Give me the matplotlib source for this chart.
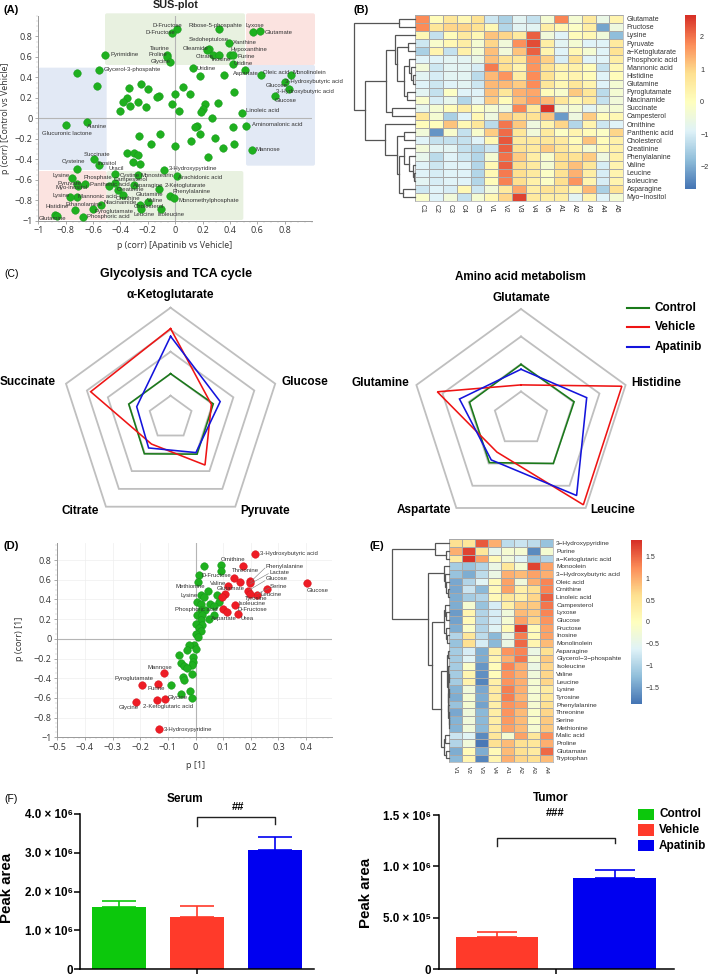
import numpy as np
import matplotlib
matplotlib.use("Agg")
import matplotlib.pyplot as plt
from matplotlib.colors import LinearSegmentedColormap
from matplotlib.patches import FancyBboxPatch, Rectangle

W, H = 709, 974
SANS = ['Liberation Sans', 'DejaVu Sans']
OPEN = ['Open Sans', 'DejaVu Sans']
plt.rcParams['font.family'] = SANS

# ---------------- Panel A data ----------------
sus_x = [.01,-.02,.32,.57,.62,.39,.25,.23,.28,.32,.40,.42,.42,.51,.63,.85,.80,.83,.73,.43,-.06,-.06,-.04,-.51,-.72,-.56,-.57,.13,.18,.36,-.25,-.20,-.34,.06,0,.11,-.12,-.13,-.35,-.38,-.27,-.33,-.21,-.40,-.02,.03,.22,.31,.20,.19,.27,.49,-.645,-.80,.42,.52,.16,.145,.18,.29,.115,-.11,-.265,-.175,0,.35,.43,.56,.24,-.35,-.30,-.275,-.59,-.56,-.305,-.26,-.72,-.08,-.44,-.27,.01,-.755,-.715,-.66,-.48,-.44,-.30,-.42,-.115,-.38,-.72,-.765,-.04,-.01,-.20,-.545,-.26,-.25,-.105,-.60,-.73,-.875,-.86,-.675,-.71]
sus_y = [.87,.83,.87,.84,.85,.74,.68,.67,.62,.62,.62,.62,.53,.47,.42,.42,.36,.29,.22,.26,.62,.60,.55,.62,.44,.47,.32,.49,.41,.42,.34,.29,.30,.31,.24,.24,.22,.205,.20,.16,.16,.12,.11,.07,.14,.07,.14,.15,.09,.06,0,.05,-.035,-.065,-.085,-.07,-.07,-.08,-.155,-.19,-.22,-.155,-.17,-.25,-.27,-.29,-.25,-.305,-.38,-.34,-.34,-.355,-.40,-.46,-.43,-.445,-.49,-.50,-.54,-.555,-.565,-.58,-.64,-.645,-.665,-.63,-.655,-.70,-.69,-.75,-.77,-.77,-.76,-.78,-.82,-.845,-.845,-.89,-.885,-.89,-.90,-.94,-.955,-.96,-.66]
sus_labels = [("D-Fructose",457,76),("D-Fructose",437,98),("Ribose-5-phospahte",566,76),("Lyxose",738,76),("Glutamate",793,98),("Sedoheptulose",566,118),("Xanthine",698,127),("Taurine",451,144),("Oleamide",548,144),("Hypoxanthine",692,150),("Proline",445,163),("Citrate",587,170),("Inosine",634,179),("Purine",712,170),("Glycine",451,186),("Uridine",700,191),("Pyrimidine",332,163),("Glycerol-3-phospahte",310,207),("Uridine",590,207),("Aspartate",698,219),("Oleic acid",790,219),("Monolinolein",878,219),("3-Hydroxybutyric acid",855,244),("Glucose",798,256),("3-Hydroxybutyric acid",827,274),("Glucose",823,302),("Linoleic acid",737,333),("Alanine",260,379),("Glucuronic lactone",126,400),("Aminomalonic acid",757,375),("Mannose",768,449),("Succinate",252,463),("Cysteine",184,484),("Inositol",294,491),("Uracil",325,506),("3-Hydroxypyridine",506,506),("Lysine",158,526),("Phosphate",252,533),("Cystine",358,526),("Monostearin",422,526),("Arachidonic acid",535,533),("Campesterol",340,540),("Pyruvate",173,550),("Panthenic acid",270,555),("Asparagine",398,555),("2-Ketoglutarate",495,555),("Myo-inositol",165,562),("Creatinine",350,568),("Phenylalanine",518,575),("Glutamine",408,583),("Lysine",158,588),("Mannonic acid",235,588),("Ornithine",348,596),("Valine",442,602),("Monomethylphosphate",535,602),("Ethanolamine",198,612),("Niacinamide",310,609),("Histidine",137,620),("Cholesterol",400,620),("Pyroglutamate",284,635),("Leucine",400,645),("Isoleucine",473,645),("Phosphoric acid",260,650),("Glutamine",117,656)]

# ---------------- Panel B data ----------------
b_rows = ["Glutamate","Fructose","Lysine","Pyruvate","a\u2212Ketoglutarate","Phosphoric acid","Mannonic acid","Histidine","Glutamine","Pyroglutamate","Niacinamide","Succinate","Campesterol","Ornithine","Panthenic acid","Cholesterol","Creatinine","Phenylalanine","Valine","Leucine","Isoleucine","Asparagine","Myo\u2212Inositol"]
b_cols = ["C1","C2","C3","C4","C5","V1","V2","V3","V4","V5","A1","A2","A3","A4","A5"]
b_vals = [
[1.8,.1,.7,.2,.8,-1.1,-1.5,-.8,-1.2,-.3,1.85,-.3,.6,-.6,.3],
[1.8,.7,1.0,1.0,.8,.2,-1.4,-.8,-.8,.5,.2,-.1,.5,-2.1,-.5],
[.2,-1.2,.1,.6,.2,1.2,1.0,.6,2.2,-.4,-.9,.1,.2,-.4,-1.8],
[-1.1,-.2,.2,.5,-.3,1.0,-.4,1.75,2.4,.5,-.8,-.3,-.9,-.9,.6],
[-1.5,.3,-1.2,.4,-.3,1.25,-.4,1.2,2.2,.3,-.9,.2,-.3,-.9,.8],
[-.9,-.9,-.8,-.8,-.6,1.25,.8,.7,1.7,1.05,-1.0,.8,-.9,-.9,.5],
[-.4,-1.1,-.8,-.8,-1.0,1.95,.9,.3,1.7,.8,.3,.4,.1,-1.2,.2],
[-.8,-1,-.8,-.8,-1.3,1.3,1.7,.5,1.8,.8,.2,.3,.1,-.9,.1],
[-.9,-1.1,-.9,-.8,-1.1,1.3,1.3,1.1,1.8,.7,.2,.7,.3,-.9,-.3],
[-.8,-1.2,-.1,-.9,-.9,1.25,.7,1.4,1.5,.1,-.2,1.15,.7,-1.3,-.3],
[-.2,-1.0,-.7,-1.4,-.8,1.1,.1,1.25,1.6,1.3,.7,.2,.6,-1.2,-.4],
[-.7,-.3,.1,.5,-.1,-.3,-.5,1.85,.6,2.65,-.4,-.3,-.8,-.4,-.3],
[.7,-.3,-1.5,-.9,.2,-.5,1.1,.9,.8,1.2,-2.2,-.5,1.1,.1,.2],
[.1,.05,1.2,.2,.7,-1.3,2.0,1.15,-.5,.3,1.0,-1.4,.3,-1.1,-.9],
[-.4,-2.3,-.2,-1.2,-.2,1.1,2.1,.7,-.4,.6,-.1,.3,.1,-.1,1.0],
[-.9,-1.2,-1.2,-1.2,-.9,.2,2.3,.6,.6,.7,.6,.1,1.2,.1,.4],
[-.4,-.8,-.8,-1.2,-1.4,-1.1,2.2,.8,.6,1.1,.7,.3,-.3,.2,.4],
[-.7,-1.3,-.9,-1.1,-1.4,-.3,2.05,1.1,.5,-.2,.9,.8,1.1,-.5,.4],
[-.9,-1.1,-.9,-.9,-1.4,.2,2.2,.9,.6,-.3,.9,1.25,.7,-1.0,.3],
[-.9,-1.0,-.9,-.9,-1.4,.2,1.95,.9,.6,-.1,.8,1.4,.5,-1.0,.3],
[-.8,-1.0,-.9,-.9,-1.4,.1,1.9,.9,.4,-.1,.9,1.7,.3,-1.0,.3],
[-1.1,-.9,-1.0,.2,-1.1,-.4,.6,1.5,.5,.8,.7,.3,1.3,-1.5,.8],
[-.2,-.9,-.4,-1.2,-.3,.2,1.0,2.5,.6,.5,.5,-.8,.3,-.9,-.3]]
b_tree = (1.0,(.257,0,1),(.815,(.48,(.33,2,(.29,(.11,3,4),(.18,(.093,5,(.065,6,(.033,7,8))),(.136,9,10)))),(.37,11,12)),
          (.50,13,(.30,(.175,14,15),(.27,(.175,16,(.10,17,(.03,18,(.02,19,20)))),(.19,21,22))))))

# ---------------- Panel C data ----------------
radar_left_axes = ["\u03b1-Ketoglutarate","Glucose","Pyruvate","Citrate","Succinate"]
radar_left_control = [2.0,2.04,2.05,2.03,2.0]
radar_left_vehicle = [4.05,1.95,2.66,1.48,3.82]
radar_left_apatinib = [3.7,2.37,1.96,1.7,1.62]
radar_left_rings = [1,2,3,4,5]
radar_right_axes = ["Glutamate","Histidine","Leucine","Aspartate","Glutamine"]
radar_right_control = [2.48,2.54,2.5,2.45,2.46]
radar_right_vehicle = [1.55,4.82,4.82,1.86,4.0]
radar_right_apatinib = [2.26,3.14,4.3,2.3,2.94]
radar_right_rings = [1.25,2.5,3.75,5]

# ---------------- Panel D data ----------------
d_red_x = [.215,.172,.138,.16,.118,.198,.196,.403,.258,.222,.189,.196,.106,.096,.144,.10,.112,.153,-.113,-.193,-.135,-.215,-.138,-.109,-.132]
d_red_y = [.865,.745,.62,.58,.535,.59,.57,.565,.505,.445,.485,.46,.455,.43,.34,.305,.27,.255,-.35,-.465,-.455,-.64,-.625,-.61,-.92]
d_green_x = [.031,.093,.092,.011,.008,.044,.018,.078,.032,.006,.018,.052,.084,.066,.018,.036,.006,.024,.066,.05,.018,.003,.024,.012,.018,.002,.008,-.006,0,-.022,-.032,-.008,-.008,-.059,-.054,-.012,-.04,-.03,-.012,-.044,-.04,-.087,-.019,-.052,-.013]
d_green_y = [.74,.755,.69,.65,.575,.49,.445,.445,.43,.37,.355,.355,.375,.335,.295,.295,.245,.245,.245,.2,.19,.15,.14,.11,.075,.05,.02,-.06,-.105,-.06,-.11,-.18,-.23,-.16,-.245,-.265,-.28,-.3,-.36,-.39,-.415,-.465,-.525,-.56,-.6]
d_labels = [("3-Hydroxybutyric acid",780,72),("Ornithine",663,88),("Phenylalanine",798,110),("Threonine",696,123),("Lactate",808,128),("D-Fructose",605,137),("Glucose",798,147),("Valine",630,160),("Serine",810,170),("Methionine",526,170),("Glutamate",650,176),("Glucose",920,180),("Leucine",782,192),("Lysine",541,196),("Tyrosine",735,206),("Isoleucine",715,220),("Phosphoric acid",526,238),("D-Fructose",714,238),("Aspartate",632,266),("Urea",722,266),("Mannose",443,412),("Pyroglutamate",343,446),("Purine",444,477),("Glycine",503,503),("2-Ketoglutaric acid",428,529),("Glycine",356,534),("3-Hydroxypyridine",492,598)]
d_leaders = [((795,114),(752,155)),((805,131),(750,162)),((795,152),(748,180)),((808,174),(770,192))]

# ---------------- Panel E data ----------------
e_rows = ["3\u2212Hydroxypyridine","Purine","a\u2212Ketoglutaric acid","Monoolein","3\u2212Hydroxybutyric acid","Oleic acid","Ornithine","Linoleic acid","Campesterol","Lyxose","Glucose","Fructose","Inosine","Monolinolein","Asparagine","Glycerol\u22123\u2212phospahte","Isoleucine","Valine","Leucine","Lysine","Tyrosine","Phenylalanine","Threonine","Serine","Methionine","Malic acid","Proline","Glutamate","Tryptophan"]
e_cols = ["V1","V2","V3","V4","A1","A2","A3","A4"]
e_vals = [
[.6,.5,1.6,1.0,-.9,-.8,-.9,-1.2],
[1.0,1.75,.5,-.5,-.2,-.2,-1.7,-.2],
[.4,1.85,1.1,.1,-.3,-.6,-1.2,-1.0],
[-1.1,-1.2,-1.0,-.4,.5,-.2,1.75,1.1],
[-1.2,-1.4,-.9,-.4,1.0,.9,1.1,1.0],
[-1.45,-1.0,-.6,.1,1.1,-.3,1.0,1.3],
[-1.45,-.8,-1.3,.1,1.1,.3,.6,1.3],
[-1.4,-1.1,-1.0,.1,.5,.3,.7,1.55],
[-1.4,-.2,-1.2,-.7,.3,.8,.8,1.4],
[-1.55,.2,-1.0,-.7,-.3,.9,.8,1.3],
[-1.5,.1,-1.0,-.7,-.2,1.1,.7,1.2],
[-1.4,-.1,-1.0,-.6,.1,1.8,.1,1.1],
[-1.0,.5,-.9,-1.3,-.4,1.35,.1,1.1],
[-1.2,.6,-.7,-1.3,-.4,1.5,.2,.9],
[-1.1,-.7,-1.4,.3,1.2,1.3,-.4,.6],
[-1.1,-.6,-1.4,.2,1.0,1.4,-.2,.8],
[-1.1,-.1,-1.6,.05,1.3,1.0,-.4,.7],
[-1.1,.2,-1.65,.05,1.2,1.0,-.3,.7],
[-1.1,.25,-1.75,.3,1.2,1.0,-.2,.7],
[-1.35,-.3,-1.45,.4,1.35,1.0,-.2,.4],
[-1.4,-.2,-1.4,.4,1.35,.95,-.2,.5],
[-1.2,-.2,-1.5,.3,1.2,1.1,-.2,.6],
[-1.45,-.3,-1.3,.35,1.2,.9,-.1,.7],
[-1.35,-.3,-1.3,.35,1.15,.9,-.1,.8],
[-1.35,-.3,-1.3,.4,1.1,.9,-.2,.8],
[-.8,-.6,-1.7,.5,-.2,1.1,.5,1.25],
[-1.0,-.3,-1.85,.6,.9,.6,.5,1.0],
[-1.4,.1,-1.4,.1,.9,.6,.4,1.5],
[-1.3,.2,-1.75,.2,1.0,.7,.6,.9]]
e_tree = (1.0,(.248,0,(.057,1,2)),(.365,(.10,3,(.075,4,(.05,5,(.03,6,7)))),
          (.305,(.10,(.07,8,(.05,9,10)),(.06,11,(.04,12,13))),
           (.144,(.045,(.03,14,15),(.03,(.02,16,(.01,17,18)),(.02,(.01,19,20),(.015,21,(.01,22,(.005,23,24)))))),
            (.10,(.07,25,26),(.05,27,28))))))

# ---------------- Panel F data ----------------
serum_groups = ["Control","Vehicle","Apatinib"]
serum_values = [1.6e6,1.35e6,3.07e6]
serum_errors = [.15e6,.27e6,.34e6]
serum_ticks = [0,1e6,2e6,3e6,4e6]
serum_ticklabels = ["0","1.0 \u00d7 10\u2076","2.0 \u00d7 10\u2076","3.0 \u00d7 10\u2076","4.0 \u00d7 10\u2076"]
tumor_groups = ["Vehicle","Apatinib"]
tumor_values = [3.17e5,8.84e5]
tumor_errors = [.49e5,.84e5]
tumor_ticks = [0,5e5,1e6,1.5e6]
tumor_ticklabels = ["0","5.0 \u00d7 10\u2075","1.0 \u00d7 10\u2076","1.5 \u00d7 10\u2076"]

GROUP_COLORS = {"Control":"#0cc80c","Vehicle":"#ff3a2a","Apatinib":"#0000f0"}
LINE_COLORS = {"Control":"#1a7a1a","Vehicle":"#ee1414","Apatinib":"#1414dc"}
PAL = LinearSegmentedColormap.from_list("ph",["#4575B4","#91BFDB","#E0F3F8","#FFFFBF","#FEE090","#FC8D59","#D73027"])

# ---------------- helpers ----------------
fig = plt.figure(figsize=(W/100, H/100), dpi=100, facecolor='white')

def box(l, t, r, b, **kw):
    return fig.add_axes([l/W, 1-b/H, (r-l)/W, (b-t)/H], **kw)

ov = fig.add_axes([0, 0, 1, 1], zorder=50)
ov.set_xlim(0, W); ov.set_ylim(H, 0); ov.axis('off'); ov.patch.set_alpha(0)
bg = fig.add_axes([0, 0, 1, 1], zorder=-5)
bg.set_xlim(0, W); bg.set_ylim(H, 0); bg.axis('off')

def T(x, y, s, size=7, ha='left', va='center', weight='normal', family=SANS, color='black', **kw):
    ov.text(x, y, s, fontsize=size, ha=ha, va=va, fontweight=weight, family=family, color=color, **kw)

def scatter_axes(ax, xt, xl, yt, yl, grid=False):
    ax.patch.set_alpha(0)
    for s in ('top', 'right'):
        ax.spines[s].set_visible(False)
    for s in ('left', 'bottom'):
        ax.spines[s].set_color('#999999'); ax.spines[s].set_linewidth(.7)
    ax.set_xticks(xt, xl); ax.set_yticks(yt, yl)
    ax.tick_params(length=2.5, width=.5, color='#888888', labelsize=6.5, labelcolor='#333333', pad=1.5)
    for lb in ax.get_xticklabels() + ax.get_yticklabels():
        lb.set_family(OPEN)
    ax.minorticks_on()
    ax.tick_params(which='minor', length=1.2, width=.3, color='#bbbbbb')
    ax.axhline(0, color='#b5b5b5', lw=.8, zorder=1)
    ax.axvline(0, color='#b5b5b5', lw=.8, zorder=1)
    if grid:
        ax.grid(True, color='#eeeeee', lw=.5, zorder=0)
        ax.set_axisbelow(True)

def dendro(ax, node, color='#555555', lw=.9):
    if isinstance(node, int):
        return 0.0, node + .5
    h = node[0]
    (h1, y1), (h2, y2) = dendro(ax, node[1], color, lw), dendro(ax, node[2], color, lw)
    ax.plot([h1, h, h, h2], [y1, y1, y2, y2], color=color, lw=lw, solid_joinstyle='miter', clip_on=False)
    return h, (y1 + y2) / 2

def heatmap(vals, rows, cols, vmax, rect, cbrect, cbticks, cblabels, tree, treeleft, rowfs, cbfs):
    l, t, r, b = rect
    ax = box(l, t, r, b)
    arr = np.array(vals)
    ax.pcolormesh(arr, cmap=PAL, vmin=-vmax, vmax=vmax, edgecolors='#a8a8a8', linewidth=.5)
    ax.set_ylim(len(rows), 0)
    ax.set_yticks(np.arange(len(rows)) + .5, rows)
    ax.set_xticks(np.arange(len(cols)) + .5, cols, rotation=270)
    ax.yaxis.tick_right()
    ax.tick_params(length=0, labelsize=rowfs, labelcolor='#333333', pad=2.5)
    for s in ax.spines.values():
        s.set_color('#a8a8a8'); s.set_linewidth(.5)
    cax = box(*cbrect)
    grad = np.linspace(vmax, -vmax, 200).reshape(-1, 1)
    cax.imshow(grad, cmap=PAL, vmin=-vmax, vmax=vmax, aspect='auto', extent=[0, 1, -vmax, vmax])
    cax.set_xticks([]); cax.yaxis.tick_right()
    cax.set_yticks(cbticks, cblabels)
    cax.tick_params(length=0, labelsize=cbfs, labelcolor='#333333', pad=3)
    for s in cax.spines.values():
        s.set_visible(False)
    d = box(treeleft, t, l, b)
    d.set_xlim(1, 0); d.set_ylim(len(rows), 0); d.axis('off')
    dendro(d, tree)

def radar(center, R, rings, series):
    cx, cy = center
    ax = box(cx-R, cy-R, cx+R, cy+R, projection='polar')
    ax.set_theta_zero_location('N'); ax.set_theta_direction(-1)
    ax.set_ylim(0, 5); ax.axis('off'); ax.patch.set_alpha(0)
    th = np.deg2rad(np.arange(0, 360, 72))
    th = np.append(th, th[0])
    for ring in rings:
        ax.plot(th, [ring]*6, color='#bfbfbf', lw=1.3, clip_on=False, solid_joinstyle='miter')
    for name in ("Control", "Vehicle", "Apatinib"):
        v = series[name]
        ax.plot(th, v + [v[0]], color=LINE_COLORS[name], lw=1.15, clip_on=False, solid_joinstyle='miter')

def bars(ax, vals, errs, groups, xlim, ticks, ticklabels, ymax, centertick, capsize):
    ax.patch.set_alpha(0)
    x = np.arange(len(vals))
    ax.bar(x, vals, width=.7, color=[GROUP_COLORS[g] for g in groups], zorder=2)
    for xi, v, e, g in zip(x, vals, errs, groups):
        ax.errorbar(xi, v, yerr=[[0], [e]], color=GROUP_COLORS[g], capsize=capsize, capthick=1.2, elinewidth=1.2, zorder=3, clip_on=False)
    ax.set_xlim(*xlim); ax.set_ylim(0, ymax)
    for s in ('top', 'right'):
        ax.spines[s].set_visible(False)
    for s in ('left', 'bottom'):
        ax.spines[s].set_linewidth(1.1)
    ax.set_xticks([centertick], [""])
    ax.set_yticks(ticks, ticklabels)
    ax.tick_params(width=1.1, length=4, labelsize=8.4, pad=1.5)
    for lb in ax.get_yticklabels():
        lb.set_fontweight('bold')

# ---------------- Panel A ----------------
for color, (l, t, r, b) in [("#e8f1e0", (315, 40, 735, 195)), ("#fbe3e0", (738, 40, 945, 195)),
                            ("#e2e9f5", (738, 195, 945, 497)), ("#e2e9f5", (115, 203, 320, 510)),
                            ("#fbe3e0", (115, 513, 320, 660)), ("#e8f1e0", (320, 513, 730, 660))]:
    bg.add_patch(FancyBboxPatch((l/3+1, t/3+1), (r-l)/3-2, (b-t)/3-2, boxstyle="round,pad=1,rounding_size=2", fc=color, ec='none'))

axA = box(38.3, 16, 312, 220.7)
axA.set_xlim(-1, 1.0); axA.set_ylim(-1, 1.0)
tick_vals = [-1,-.8,-.6,-.4,-.2,0,.2,.4,.6,.8]
tick_text = ["\u22121","\u22120.8","\u22120.6","\u22120.4","\u22120.2","0","0.2","0.4","0.6","0.8"]
scatter_axes(axA, tick_vals, tick_text, tick_vals, tick_text)
axA.scatter(sus_x, sus_y, s=30, c='#1fb01f', edgecolors='#14931a', linewidths=.3, zorder=3, clip_on=False)
for s, zx, zy in sus_labels:
    T(zx/3, zy/3, s, size=4.3, color='#333333')
T(176, 5, "SUS-plot", size=7.8, ha='center', weight='bold', color='#222222')
T(175, 245, "p (corr) [Apatinib vs Vehicle]", size=6.4, ha='center', family=OPEN, color='#333333')
T(6, 118, "p (corr) [Control vs Vehicle]", size=6.4, ha='center', rotation=90, family=OPEN, color='#333333')
T(3, 10, "(A)", size=8, weight='bold')

# ---------------- Panel B ----------------
heatmap(b_vals, b_rows, b_cols, 2.68, (415, 14.7, 623.3, 201), (685, 14.7, 696, 188.7),
        [-2,-1,0,1,2], ["\u22122","\u22121","0","1","2"], b_tree, 354, 5, 5.2)
T(353.5, 10, "(B)", size=8, weight='bold')

# ---------------- Panel C ----------------
radar((170.6, 417.7), 110, radar_left_rings, {"Control":radar_left_control,"Vehicle":radar_left_vehicle,"Apatinib":radar_left_apatinib})
radar((521, 419), 110, radar_right_rings, {"Control":radar_right_control,"Vehicle":radar_right_vehicle,"Apatinib":radar_right_apatinib})
RF = dict(size=8.5, weight='bold')
T(4, 274, "(C)", size=7.5)
T(175.5, 274, "Glycolysis and TCA cycle", ha='center', size=9, weight='bold')
T(520, 276.7, "Amino acid metabolism", ha='center', size=8.4, weight='bold')
T(170.6, 295, radar_left_axes[0], ha='center', **RF)
T(282, 381.7, radar_left_axes[1], **RF)
T(240, 510.7, radar_left_axes[2], **RF)
T(62, 510.7, radar_left_axes[3], **RF)
T(0, 381.7, radar_left_axes[4], **RF)
T(521.6, 297.7, radar_right_axes[0], ha='center', **RF)
T(631.6, 383, radar_right_axes[1], **RF)
T(590, 510, radar_right_axes[2], **RF)
T(397, 510, radar_right_axes[3], **RF)
T(352, 383, radar_right_axes[4], **RF)
for name, y in zip(("Control", "Vehicle", "Apatinib"), (308.3, 326.7, 346.7)):
    ov.plot([627, 649], [y, y], color=LINE_COLORS[name], lw=1.5)
    T(654.6, y, name, **RF)

# ---------------- Panel D ----------------
axD = box(57.3, 542.7, 331.7, 737.3)
axD.set_xlim(-.4965, .4925); axD.set_ylim(-1, .977)
scatter_axes(axD, [-.5,-.4,-.3,-.2,-.1,0,.1,.2,.3,.4], ["\u22120.5","\u22120.4","\u22120.3","\u22120.2","\u22120.1","0","0.1","0.2","0.3","0.4"],
             tick_vals, tick_text, grid=True)
axD.scatter(d_green_x, d_green_y, s=30, c='#1fb01f', edgecolors='#14931a', linewidths=.3, zorder=3)
axD.scatter(d_red_x, d_red_y, s=30, c='#ee1c25', edgecolors='#d01018', linewidths=.3, zorder=4)
for (a, b) in d_leaders:
    ov.plot([a[0]/3, b[0]/3], [530+a[1]/3, 530+b[1]/3], color='#777777', lw=.4)
for s, zx, zy in d_labels:
    T(zx/3, 530+zy/3, s, size=4.3, color='#333333')
T(4, 546, "(D)", size=8, weight='bold')
T(195.7, 766, "p [1]", size=6.6, ha='center', family=OPEN, color='#333333')
T(19, 639, "p (corr) [1]", size=6.6, ha='center', rotation=90, family=OPEN, color='#333333')

# ---------------- Panel E ----------------
heatmap(e_vals, e_rows, e_cols, 1.885, (449.3, 539.3, 552.7, 762.3), (630.7, 540, 641.7, 704),
        [-1.5,-1,-.5,0,.5,1,1.5], ["\u22121.5","\u22121","\u22120.5","0","0.5","1","1.5"], e_tree, 391.7, 4.65, 5)
T(370, 546, "(E)", size=8, weight='bold')

# ---------------- Panel F ----------------
axS = box(80.3, 814, 314, 969.3)
bars(axS, serum_values, serum_errors, serum_groups, (-.497, 2.5), serum_ticks, serum_ticklabels, 4e6, 1, 12)
axS.plot([1, 1, 2, 2], [3.70e6, 3.93e6, 3.93e6, 3.75e6], color='#222222', lw=1, clip_on=False)
axT = box(439, 815, 674, 969.3)
bars(axT, tumor_values, tumor_errors, tumor_groups, (-.493, 1.505), tumor_ticks, tumor_ticklabels, 1.5e6, .5, 14.7)
axT.plot([0, 0, 1, 1], [1.2e6, 1.28e6, 1.28e6, 1.23e6], color='#222222', lw=1, clip_on=False)
T(4, 799, "(F)", size=7.5)
T(185, 799, "Serum", ha='center', size=8.5, weight='bold')
T(550.5, 798, "Tumor", ha='center', size=8.5, weight='bold')
T(238.5, 806.7, "##", ha='center', size=8, weight='bold')
T(555, 812.7, "###", ha='center', size=8, weight='bold')
T(7, 888, "Peak area", size=10.8, weight='bold', ha='center', rotation=90)
T(365.6, 893, "Peak area", size=10.8, weight='bold', ha='center', rotation=90)
for name, y in zip(("Control", "Vehicle", "Apatinib"), (814.3, 830, 845.7)):
    ov.add_patch(Rectangle((637.6, y-5.7), 16, 11.4, fc=GROUP_COLORS[name], ec='none'))
    T(659, y, name, **RF)

fig.savefig("out.png", dpi=100)
